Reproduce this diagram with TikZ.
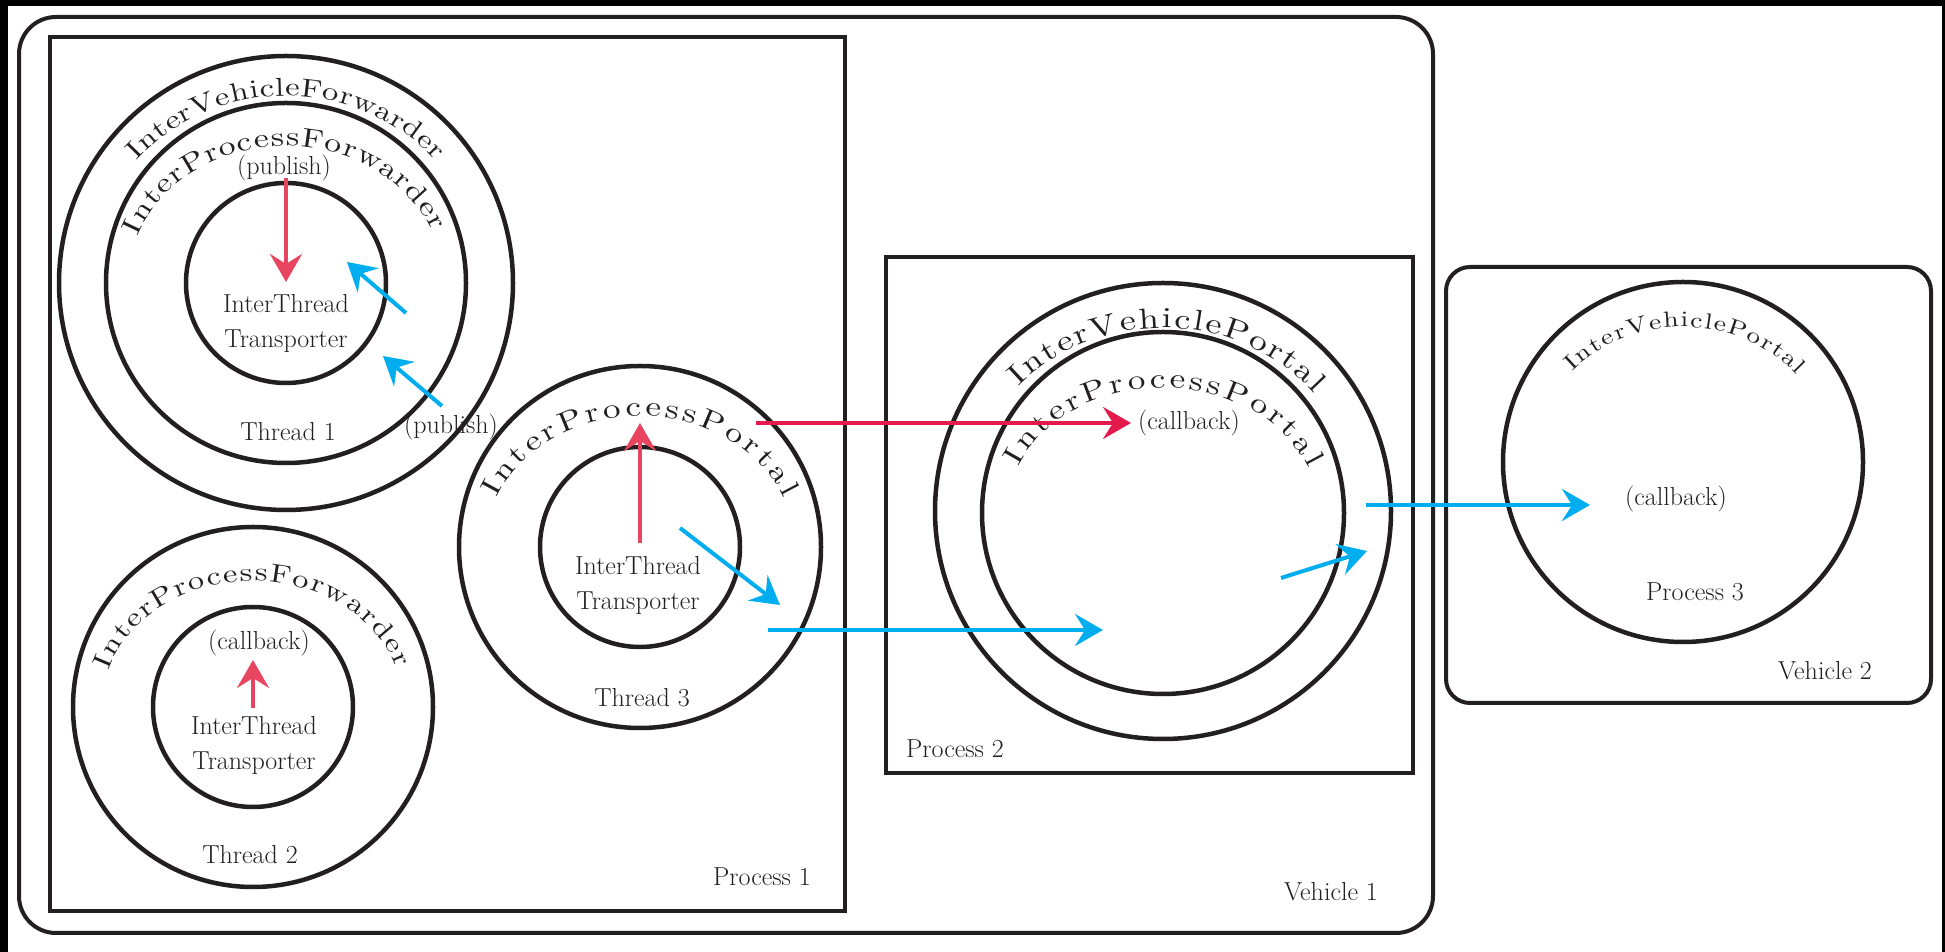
\documentclass[tikz,border=0pt]{standalone}
\usepackage{fontspec}
\usetikzlibrary{arrows.meta,decorations.text}
\newfontfamily\widefont[FakeStretch=1.25]{lmroman10-regular.otf}
\definecolor{ink}{RGB}{35,31,32}
\definecolor{flowred}{RGB}{232,70,96}
\definecolor{linkred}{RGB}{229,26,76}
\definecolor{flowblue}{RGB}{0,174,239}
\newcommand{\lblfont}{\fontsize{26}{35}\selectfont}
\tikzset{
  frame/.style={draw=ink, line width=4pt, rectangle, inner sep=0pt},
  ring/.style={circle, draw=ink, line width=4.5pt, inner sep=0pt, minimum size=#1},
  lbl/.style={text=ink, font=\lblfont, inner sep=0pt, align=center},
  tip/.style={-{Stealth[length=28pt,width=32pt,inset=10pt]}},
  redflow/.style={tip, draw=flowred, line width=4pt},
  redlink/.style={tip, draw=linkred, line width=4pt},
  blueflow/.style={tip, draw=flowblue, line width=4pt},
  arctext/.style args={#1:#2}{decorate, decoration={text along path,
      text align=fit to path, text color=ink,
      text={|\widefont\fontsize{#1}{#1}\selectfont|#2}}},
}
\begin{document}
\begin{tikzpicture}[x=1pt,y=1pt]
\useasboundingbox (0,0) rectangle (1945,952);
\fill[white] (0,0) rectangle (1945,952);
% dark border strips
\fill[black] (0,946) rectangle (1945,952);
\fill[black] (0,0) rectangle (8,952);
\fill[black] (1942,0) rectangle (1945,952);

% vehicles and processes
\node[frame, rounded corners=37pt, minimum width=1414pt, minimum height=916pt] (veh1) at (726,477) {};
\node[frame, minimum width=795pt, minimum height=874pt] (proc1) at (447.5,478) {};
\node[frame, minimum width=527pt, minimum height=516pt] (proc2) at (1149.5,437) {};
\node[frame, rounded corners=24pt, minimum width=485pt, minimum height=436pt] (veh2) at (1688.5,467) {};

% threads and portals
\node[ring=454pt] (t1outer) at (286,669) {};
\node[ring=360pt] (t1mid) at (286,669) {};
\node[ring=200pt] (t1inner) at (286,669) {};
\node[ring=360pt] (t2outer) at (253,245) {};
\node[ring=200pt] (t2inner) at (253,245) {};
\node[ring=362pt] (t3outer) at (640,405) {};
\node[ring=200pt] (t3inner) at (640,405) {};
\node[ring=456pt] (p2outer) at (1163,441) {};
\node[ring=362pt] (p2inner) at (1163,439) {};
\node[ring=360pt] (p3ring) at (1683,490) {};

% curved names
\path[arctext={26:InterVehicleForwarder}] (286,669) ++(139:198 and 187) arc[start angle=139, end angle=41, x radius=198, y radius=187];
\path[arctext={27:InterProcessForwarder}] (286,669) ++(160:158 and 137) arc[start angle=160, end angle=22, x radius=158, y radius=137];
\path[arctext={26:InterProcessForwarder}] (253,245) ++(163:151 and 126) arc[start angle=163, end angle=18, x radius=151, y radius=126];
\path[arctext={28:InterProcessPortal}] (640,405) ++(158:155 and 131) arc[start angle=158, end angle=22, x radius=155, y radius=131];
\path[arctext={29:InterVehiclePortal}] (1163,441) ++(137:198 and 183) arc[start angle=137, end angle=40, x radius=198, y radius=183];
\path[arctext={28:InterProcessPortal}] (1163,439) ++(158:156 and 125) arc[start angle=158, end angle=21, x radius=156, y radius=125];
\path[arctext={22:InterVehiclePortal}] (1683,490) ++(138:149 and 135) arc[start angle=138, end angle=40, x radius=149, y radius=135];

% labels
\node[lbl] (t1pub) at (284,784) {(publish)};
\node[lbl] (t1itt) at (286,628.5) {InterThread\\Transporter};
\node[lbl] (t1name) at (288,520) {Thread 1};
\node[lbl] (t1pubr) at (451,525) {(publish)};
\node[lbl] (t2cb) at (259,309) {(callback)};
\node[lbl] (t2itt) at (254,206.5) {InterThread\\Transporter};
\node[lbl] (t2name) at (250,97) {Thread 2};
\node[lbl] (t3itt) at (638,366.5) {InterThread\\Transporter};
\node[lbl] (t3name) at (642,254) {Thread 3};
\node[lbl] (p2cb) at (1189,529) {(callback)};
\node[lbl] (p2name) at (955,203) {Process 2};
\node[lbl] (p3cb) at (1676,453) {(callback)};
\node[lbl] (p3name) at (1695,360) {Process 3};
\node[lbl] (v2name) at (1825,281) {Vehicle 2};
\node[lbl] (v1name) at (1331,60) {Vehicle 1};
\node[lbl] (p1name) at (762,75) {Process 1};

% arrow end points
\coordinate (a1s) at (286,774);  \coordinate (a1e) at (286,670);
\coordinate (b1s) at (406,639);  \coordinate (b1e) at (347,690);
\coordinate (b2s) at (442,546);  \coordinate (b2e) at (383,596);
\coordinate (a2s) at (253,244);  \coordinate (a2e) at (253,292);
\coordinate (a3s) at (640,409);  \coordinate (a3e) at (640,529);
\coordinate (b3s) at (680,424);  \coordinate (b3e) at (780,347);
\coordinate (r4s) at (756,529);  \coordinate (r4e) at (1131,529);
\coordinate (b4s) at (768,322);  \coordinate (b4e) at (1103,322);
\coordinate (b5s) at (1281,374); \coordinate (b5e) at (1367,401);
\coordinate (b6s) at (1366,447); \coordinate (b6e) at (1590,447);

% message flows
\draw[redflow] (a1s) -- (a1e);
\draw[blueflow] (b1s) -- (b1e);
\draw[blueflow] (b2s) -- (b2e);
\draw[redflow] (a2s) -- (a2e);
\draw[redflow] (a3s) -- (a3e);
\draw[blueflow] (b3s) -- (b3e);
\draw[redlink] (r4s) -- (r4e);
\draw[blueflow] (b4s) -- (b4e);
\draw[blueflow] (b5s) -- (b5e);
\draw[blueflow] (b6s) -- (b6e);
\end{tikzpicture}
\end{document}
